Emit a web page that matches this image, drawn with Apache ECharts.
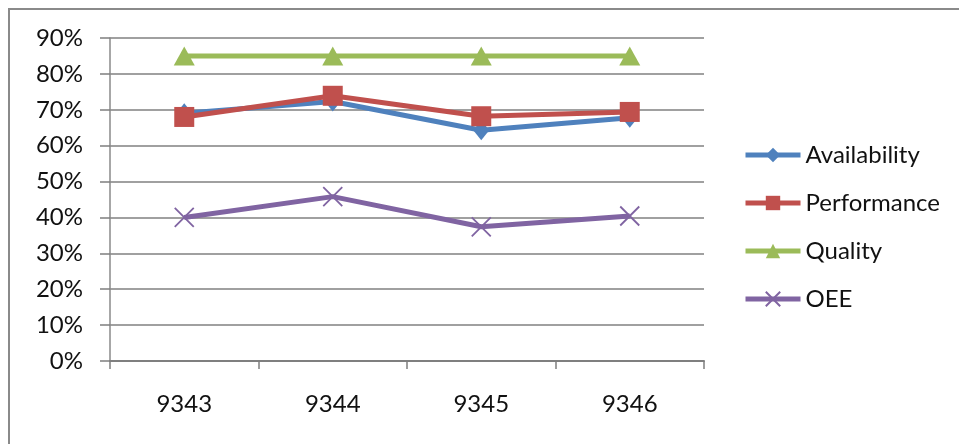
<!DOCTYPE html>
<html>
<head>
<meta charset="utf-8">
<script src="https://cdn.jsdelivr.net/npm/echarts@6/dist/echarts.min.js"></script>
<style>
html,body{margin:0;padding:0;background:#fff;}
#c{width:959px;height:444px;}
</style>
</head>
<body>
<div id="c"></div>
<script>
var categories = ['9343', '9344', '9345', '9346'];
var availability = [69, 72.3, 64.3, 67.8];
var performance = [68, 73.9, 68.2, 69.4];
var quality = [85, 85, 85, 85];
var oee = [40, 45.8, 37.4, 40.4];
var yTicks = [0, 10, 20, 30, 40, 50, 60, 70, 80, 90];

var FONT = 'Lato';
var FS = 24;
var chart = echarts.init(document.getElementById('c'));
var xPath = 'path://M0,0L10,10M10,0L0,10';

function mk(name, data, color, symbol, size, extra) {
  var s = {
    name: name,
    type: 'line',
    data: data,
    symbol: symbol,
    symbolSize: size,
    showSymbol: true,
    lineStyle: { color: color, width: 5 },
    itemStyle: { color: color },
    emphasis: { disabled: true },
    animation: false
  };
  if (extra) { for (var k in extra) s[k] = extra[k]; }
  return s;
}

chart.setOption({
  backgroundColor: '#ffffff',
  animation: false,
  graphic: [{
    type: 'rect',
    shape: { x: 9, y: 9, width: 1000, height: 500 },
    style: { fill: 'none', stroke: '#8a8a8a', lineWidth: 2 },
    silent: true,
    z: -1
  }],
  grid: { left: 110, right: 255, top: 38, bottom: 83 },
  legend: {
    orient: 'vertical',
    left: 738,
    top: 138,
    itemWidth: 55,
    itemHeight: 18,
    itemGap: 24,
    lineStyle: { width: 5 },
    textStyle: { fontFamily: FONT, fontSize: FS, lineHeight: 24, color: '#111' },
    data: ['Availability', 'Performance', 'Quality', 'OEE']
  },
  xAxis: {
    type: 'category',
    data: categories,
    boundaryGap: true,
    axisLine: { lineStyle: { color: '#7f7f7f', width: 2 } },
    axisTick: { show: true, interval: 0, length: 8, lineStyle: { color: '#7f7f7f', width: 1.5 } },
    axisLabel: { fontFamily: FONT, fontSize: FS, color: '#111', margin: 31 }
  },
  yAxis: {
    type: 'value',
    min: 0,
    max: 90,
    interval: 10,
    axisLine: { show: true, lineStyle: { color: '#8a8a8a', width: 1.5 } },
    axisTick: { show: true, length: 10, lineStyle: { color: '#7f7f7f', width: 1.5 } },
    splitLine: { lineStyle: { color: '#808080', width: 1.5 } },
    axisLabel: {
      fontFamily: FONT, fontSize: FS, color: '#111', margin: 27,
      formatter: function (v) { return yTicks.indexOf(v) >= 0 ? v + '%' : ''; }
    }
  },
  series: [
    mk('Availability', availability, '#4F81BD', 'diamond', [16, 20]),
    mk('Performance', performance, '#C0504D', 'rect', 20),
    mk('Quality', quality, '#9BBB59', 'triangle', [21, 19]),
    mk('OEE', oee, '#8064A2', xPath, 19, {
      itemStyle: { color: '#8064A2', borderColor: '#8064A2', borderWidth: 1.8 }
    })
  ]
});
</script>
</body>
</html>
